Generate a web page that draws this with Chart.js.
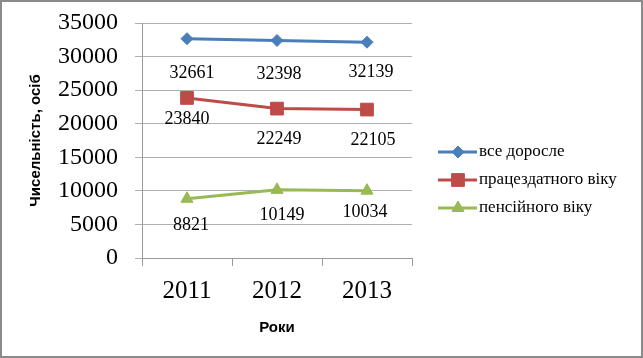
<!DOCTYPE html>
<html>
<head>
<meta charset="utf-8">
<script src="https://cdn.jsdelivr.net/npm/chart.js@4/dist/chart.umd.min.js"></script>
<style>
  html, body { margin: 0; padding: 0; background: #fff; }
  #wrap { position: relative; width: 643px; height: 358px; }
  #frame { position: absolute; left: 0; top: 0; width: 639px; height: 354px; border: 2px solid #8a8a8a; pointer-events: none; }
</style>
</head>
<body>
<div id="wrap">
  <canvas id="chart" width="643" height="358"></canvas>
  <div id="frame"></div>
</div>
<script>
var years = ['2011', '2012', '2013'];
var seriesNames = ['все доросле', 'працездатного віку', 'пенсійного віку'];
var allAdults = [32661, 32398, 32139];
var workingAge = [23840, 22249, 22105];
var pensionAge = [8821, 10149, 10034];
var yTicks = [0, 5000, 10000, 15000, 20000, 25000, 30000, 35000];

var colors = ['#4a7ebb', '#be4b48', '#98b954'];
var serif = '"Liberation Serif", "Times New Roman", serif';

// label offsets relative to each point (dx, dy)
var labelOffsets = [
    [[5, 35], [2, 34], [4, 30]],
    [[0, 21], [2, 31], [6, 31]],
    [[4, 26], [5, 25], [-2, 22]]
];

var labelPlugin = {
    id: 'valueLabels',
    afterDatasetsDraw: function (chart) {
        var ctx = chart.ctx;
        ctx.save();
        ctx.font = '18px ' + serif;
        ctx.fillStyle = '#000';
        ctx.textAlign = 'center';
        ctx.textBaseline = 'middle';
        chart.data.datasets.forEach(function (ds, i) {
            chart.getDatasetMeta(i).data.forEach(function (pt, j) {
                var off = labelOffsets[i][j];
                ctx.fillText(String(ds.data[j]), pt.x + off[0], pt.y + off[1]);
            });
        });
        ctx.restore();
    }
};

var legendPlugin = {
    id: 'sideLegend',
    afterDraw: function (chart) {
        var ctx = chart.ctx;
        ctx.save();
        chart.data.datasets.forEach(function (ds, i) {
            var y = 152 + i * 28;
            ctx.strokeStyle = ds.borderColor;
            ctx.fillStyle = ds.borderColor;
            ctx.lineWidth = 3;
            ctx.beginPath();
            ctx.moveTo(438, y);
            ctx.lineTo(477, y);
            ctx.stroke();
            ctx.lineWidth = 1;
            Chart.helpers.drawPoint(ctx, {
                pointStyle: ds.pointStyle,
                radius: ds.pointRadius,
                borderWidth: 1
            }, 458, y);
            ctx.fillStyle = '#000';
            ctx.font = '17px ' + serif;
            ctx.textAlign = 'left';
            ctx.textBaseline = 'middle';
            ctx.fillText(ds.label, 479, y);
        });
        ctx.restore();
    }
};

function makeSet(label, data, color, style, radius) {
    return {
        label: label,
        data: data,
        borderColor: color,
        backgroundColor: color,
        borderWidth: 3,
        pointStyle: style,
        pointRadius: radius,
        pointHoverRadius: radius,
        pointBorderColor: color,
        pointBackgroundColor: color,
        pointBorderWidth: 1,
        tension: 0
    };
}

new Chart(document.getElementById('chart'), {
    type: 'line',
    data: {
        labels: years,
        datasets: [
            makeSet(seriesNames[0], allAdults, colors[0], 'rectRot', 6),
            makeSet(seriesNames[1], workingAge, colors[1], 'rect', 9),
            makeSet(seriesNames[2], pensionAge, colors[2], 'triangle', 7)
        ]
    },
    options: {
        responsive: false,
        animation: false,
        layout: { padding: { left: 0, right: 231, top: 23, bottom: 0 } },
        plugins: {
            legend: { display: false },
            tooltip: { enabled: false }
        },
        scales: {
            x: {
                offset: true,
                grid: { offset: true, drawOnChartArea: false, drawTicks: true, tickLength: 8, color: '#9a9a9a' },
                border: { color: '#9a9a9a' },
                ticks: { color: '#000', font: { family: serif, size: 25 }, padding: 10 },
                title: {
                    display: true, text: 'Роки', color: '#000',
                    font: { family: '"Liberation Sans", Arial, sans-serif', size: 15, weight: 'bold' },
                    padding: { top: 0, bottom: 21 }
                },
                afterFit: function (s) { s.height = 100; s.paddingLeft = 0; s.paddingRight = 0; }
            },
            y: {
                min: 0,
                max: 35000,
                afterBuildTicks: function (s) { s.ticks = yTicks.map(function (v) { return { value: v }; }); },
                grid: { color: '#b0b0b0', tickLength: 7 },
                border: { color: '#9a9a9a' },
                ticks: {
                    color: '#000', font: { family: serif, size: 24 }, padding: 17,
                    callback: function (v) { return String(v); }
                },
                title: {
                    display: true, text: 'Чисельність, осіб', color: '#000',
                    font: { family: '"Liberation Sans", Arial, sans-serif', size: 15, weight: 'bold' },
                    padding: { top: 27, bottom: 0 }
                },
                afterFit: function (s) { s.width = 142; s.paddingTop = 0; s.paddingBottom = 0; }
            }
        }
    },
    plugins: [labelPlugin, legendPlugin]
});
</script>
</body>
</html>
